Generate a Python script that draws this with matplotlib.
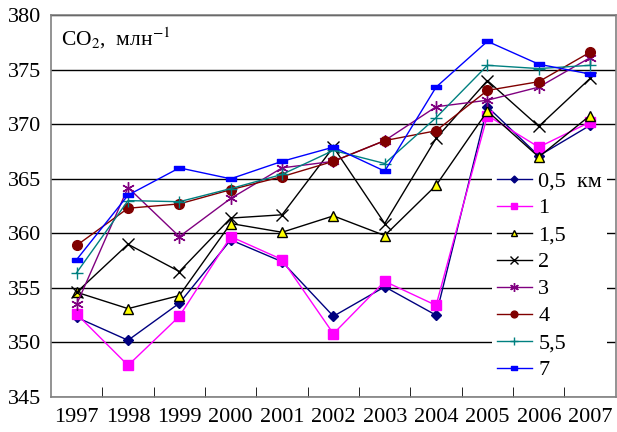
import matplotlib
matplotlib.use("Agg")
import matplotlib.pyplot as plt
from matplotlib.ticker import FixedLocator

plt.rcParams['font.family'] = ['Liberation Serif', 'DejaVu Serif']
plt.rcParams['mathtext.fontset'] = 'stix'

years = ['1997', '1998', '1999', '2000', '2001', '2002', '2003', '2004', '2005', '2006', '2007']

co2_05 = [352.3, 350.2, 353.6, 359.4, 357.4, 352.4, 355.1, 352.5, 371.6, 367.1, 369.9]
co2_1 = [352.6, 347.9, 352.4, 359.7, 357.6, 350.8, 355.6, 353.4, 370.8, 367.9, 370.2]
co2_15 = [354.6, 353.1, 354.3, 360.9, 360.1, 361.6, 359.8, 364.4, 371.2, 367.0, 370.8]
co2_2 = [354.6, 359.0, 356.5, 361.4, 361.7, 367.9, 360.9, 368.7, 374.0, 369.8, 374.2]
co2_3 = [353.5, 364.2, 359.7, 363.2, 366.0, 366.6, 368.5, 371.6, 372.2, 373.4, 376.1]
co2_4 = [358.9, 362.3, 362.7, 364.0, 365.2, 366.6, 368.5, 369.4, 373.1, 373.9, 376.6]
co2_55 = [356.4, 363.0, 362.9, 364.1, 365.4, 367.6, 366.4, 370.6, 375.4, 375.1, 375.4]
co2_7 = [357.6, 363.5, 366.0, 365.0, 366.6, 367.9, 365.7, 373.4, 377.6, 375.5, 374.6]

labels = ['0,5  км', '1', '1,5', '2', '3', '4', '5,5', '7']

dash = [(-1, -0.45), (1, -0.45), (1, 0.45), (-1, 0.45), (-1, -0.45)]

styles = [
    dict(color='#000080', marker='D', ms=5, mfc='#000080', mec='#000080'),
    dict(color='#ff00ff', marker='s', ms=7, mfc='#ff00ff', mec='#ff00ff'),
    dict(color='#000000', marker='^', ms=7, mfc='#ffff00', mec='#000000'),
    dict(color='#000000', marker='x', ms=8, mfc='none', mec='#000000', mew=1.0),
    dict(color='#800080', marker=(6, 2, 0), ms=9, mfc='none', mec='#800080', mew=1.0),
    dict(color='#800000', marker='o', ms=7, mfc='#800000', mec='#800000'),
    dict(color='#008080', marker='+', ms=9, mfc='none', mec='#008080', mew=1.0),
    dict(color='#0000ff', marker=dash, ms=7, mfc='#0000ff', mec='#0000ff'),
]

series = [co2_05, co2_1, co2_15, co2_2, co2_3, co2_4, co2_55, co2_7]

fig = plt.figure(figsize=(6.17, 4.32), dpi=100)
ax = fig.add_axes([0.0827, 0.081, 0.9153, 0.884])

x = list(range(len(years)))
for vals, lab, st in zip(series, labels, styles):
    ax.plot(x, vals, lw=1.0, label=lab, **st)

ax.set_xlim(-0.5, len(years) - 0.5)
ax.set_ylim(345, 380)
ax.set_yticks([345, 350, 355, 360, 365, 370, 375, 380])
ax.yaxis.grid(True, color='#000000', lw=1.0)
ax.set_axisbelow(True)
ax.tick_params(axis='y', length=0, labelsize=16, pad=7)

ax.set_xticks(x)
ax.set_xticklabels(years)
ax.xaxis.set_minor_locator(FixedLocator([i + 0.5 for i in range(len(years) - 1)]))
ax.tick_params(axis='x', which='major', length=0, labelsize=16, pad=8)
ax.tick_params(axis='x', which='minor', length=7, direction='in', color='#000000')

for sp in ax.spines.values():
    sp.set_color('#808080')
    sp.set_linewidth(1.2)

ax.text(0.018, 0.972, 'CO$_2$,  млн$^{-1}$', transform=ax.transAxes,
        fontsize=15.5, va='top', ha='left')

leg = ax.legend(loc='upper left', bbox_to_anchor=(0.78, 0.607), fontsize=16,
                frameon=True, fancybox=False, handlelength=1.55, markerscale=0.7,
                handletextpad=0.3, labelspacing=0.29, borderpad=0.25,
                borderaxespad=0.0)
leg.get_frame().set_edgecolor('none')
leg.get_frame().set_facecolor('white')
leg.get_frame().set_alpha(1.0)

fig.savefig('out.png', dpi=100)
